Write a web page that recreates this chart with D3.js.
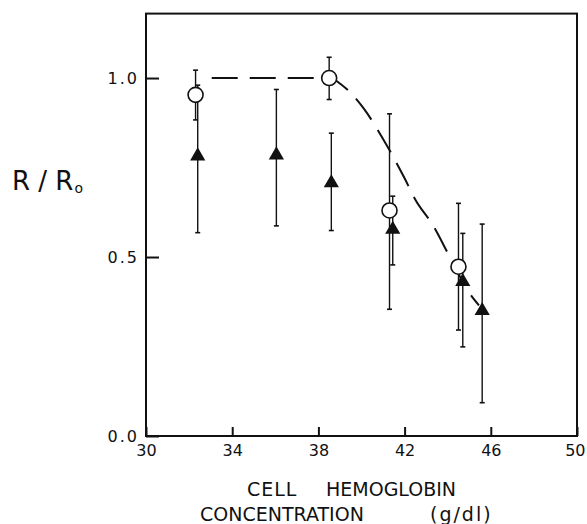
<!DOCTYPE html>
<html>
<head>
<meta charset="utf-8">
<script src="https://cdn.jsdelivr.net/npm/d3@7"></script>
<style>
  html, body { margin: 0; padding: 0; background: #fff; }
  svg { display: block; }
  text { font-family: "DejaVu Sans", "Liberation Sans", sans-serif; fill: #111; }
</style>
</head>
<body>
<svg id="chart" width="587" height="524"></svg>
<script>
// ---- data ----
const xTicks = [30, 34, 38, 42, 46, 50];
const xTickLabels = ["30", "34", "38", "42", "46", "50"];
const yTicks = [0, 0.5, 1.0];
const yTickLabels = ["0.0", "0.5", "1.0"];

// open circles
const circleX  = [32.3, 38.5, 41.3, 44.5];
const circleY  = [0.953, 1.0, 0.63, 0.473];
const circleHi = [1.022, 1.058, 0.90, 0.65];
const circleLo = [0.883, 0.94, 0.354, 0.296];

// filled triangles
const triX  = [32.4, 36.05, 38.6, 41.45, 44.7, 45.6];
const triY  = [0.782, 0.785, 0.707, 0.577, 0.431, 0.35];
const triHi = [0.98, 0.968, 0.846, 0.67, 0.566, 0.592];
const triLo = [0.568, 0.587, 0.574, 0.478, 0.249, 0.093];

// dashed fitted curve
const curveX = [33.05, 38.5, 39.1, 40.1, 41.0, 42.0, 42.5, 43.3, 44.1, 45.0, 45.45];
const curveY = [1.0, 1.0, 0.98, 0.915, 0.83, 0.72, 0.66, 0.59, 0.50, 0.40, 0.365];

// ---- chart ----
const svg = d3.select("#chart");
const x = d3.scaleLinear().domain([30, 50]).range([146, 577]);
const y = d3.scaleLinear().domain([0, 1.18]).range([436, 13.6]);

const circles = circleX.map((v, i) => ({x: v, y: circleY[i], hi: circleHi[i], lo: circleLo[i]}));
const tris = triX.map((v, i) => ({x: v, y: triY[i], hi: triHi[i], lo: triLo[i]}));
const curve = curveX.map((v, i) => [v, curveY[i]]);

// frame
svg.append("rect")
  .attr("x", x(30)).attr("y", y(1.18))
  .attr("width", x(50) - x(30)).attr("height", y(0) - y(1.18))
  .attr("fill", "none").attr("stroke", "#111").attr("stroke-width", 2);

// x axis
const xAxis = svg.append("g").attr("transform", `translate(0,${y(0)})`)
  .call(d3.axisBottom(x).tickValues(xTicks)
    .tickFormat((d, i) => xTickLabels[i])
    .tickSizeInner(-9).tickSizeOuter(0).tickPadding(9));
xAxis.select(".domain").remove();
xAxis.selectAll(".tick line").attr("stroke", "#111").attr("stroke-width", 2);
xAxis.selectAll(".tick text").attr("font-size", 16).attr("fill", "#111")
  .style("font-family", '"DejaVu Sans", sans-serif');
xAxis.selectAll(".tick text").filter(d => d === 50)
  .attr("text-anchor", "end").attr("x", 8);

// y axis
const yAxis = svg.append("g").attr("transform", `translate(${x(30)},0)`)
  .call(d3.axisLeft(y).tickValues(yTicks)
    .tickFormat((d, i) => yTickLabels[i])
    .tickSizeInner(-13).tickSizeOuter(0).tickPadding(7));
yAxis.select(".domain").remove();
yAxis.selectAll(".tick line").attr("stroke", "#111").attr("stroke-width", 2);
yAxis.selectAll(".tick text").attr("font-size", 16).attr("fill", "#111")
  .attr("letter-spacing", 2)
  .style("font-family", '"DejaVu Sans", sans-serif');

// dashed curve
svg.append("path")
  .datum(curve)
  .attr("d", d3.line().x(d => x(d[0])).y(d => y(d[1])).curve(d3.curveMonotoneX))
  .attr("fill", "none").attr("stroke", "#111").attr("stroke-width", 2)
  .attr("stroke-dasharray", "26,12");

// error bars
function errorBars(data, cls) {
  const g = svg.append("g").attr("class", cls);
  g.selectAll("line.v").data(data).join("line").attr("class", "v")
    .attr("x1", d => x(d.x)).attr("x2", d => x(d.x))
    .attr("y1", d => y(d.hi)).attr("y2", d => y(d.lo))
    .attr("stroke", "#111").attr("stroke-width", 1.4);
  ["hi", "lo"].forEach(k => {
    g.selectAll("line.c" + k).data(data).join("line").attr("class", "c" + k)
      .attr("x1", d => x(d.x) - 2.5).attr("x2", d => x(d.x) + 2.5)
      .attr("y1", d => y(d[k])).attr("y2", d => y(d[k]))
      .attr("stroke", "#111").attr("stroke-width", 1.6);
  });
}
errorBars(tris, "tri-err");
errorBars(circles, "circ-err");

// triangles
svg.append("g").selectAll("path").data(tris).join("path")
  .attr("transform", d => `translate(${x(d.x)},${y(d.y)})`)
  .attr("d", d3.symbol(d3.symbolTriangle, 100))
  .attr("fill", "#111");

// circles
svg.append("g").selectAll("circle").data(circles).join("circle")
  .attr("cx", d => x(d.x)).attr("cy", d => y(d.y)).attr("r", 7.5)
  .attr("fill", "#fff").attr("stroke", "#111").attr("stroke-width", 1.6);

// y label R / R0
const yl = svg.append("text").attr("x", 12).attr("y", 190).attr("font-size", 26);
yl.append("tspan").text("R / R");
yl.append("tspan").attr("font-size", 14).attr("dy", 3).attr("dx", 1).text("o");

// x label
function word(txt, x0, yb, ls) {
  svg.append("text").attr("x", x0).attr("y", yb).attr("font-size", 19)
    .attr("letter-spacing", ls).text(txt);
}
word("CELL", 247, 496, 1);
word("HEMOGLOBIN", 326, 496, 0);
word("CONCENTRATION", 200, 521, 0);
word("(g/dl)", 430, 521, 2);
</script>
</body>
</html>
